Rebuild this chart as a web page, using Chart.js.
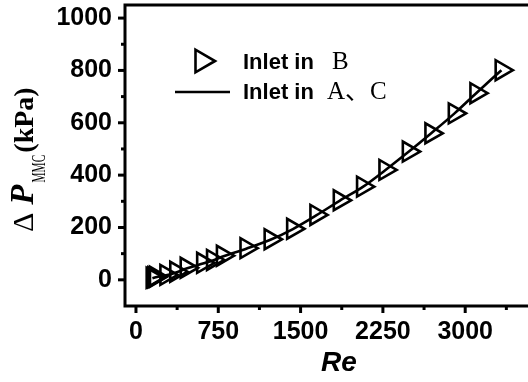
<!DOCTYPE html>
<html>
<head>
<meta charset="utf-8">
<script src="https://cdn.jsdelivr.net/npm/chart.js@4/dist/chart.umd.min.js"></script>
<style>
  html, body { margin: 0; padding: 0; background: #fff; overflow: hidden; }
  #wrap { width: 528px; height: 382px; overflow: hidden; }
</style>
</head>
<body>
<div id="wrap"><canvas id="dpChart" width="560" height="382"></canvas></div>
<script>
// Inlet in B (triangle markers)
const reB = [150, 165, 180, 275, 365, 460, 610, 700, 790, 1005, 1225, 1430, 1642, 1855, 2067, 2271, 2484, 2690, 2903, 3100, 3330];
const dpB = [8, 10, 12, 19, 31, 46, 65, 76, 92, 121, 155, 195, 248, 304, 356, 420, 490, 560, 636, 713, 801];
// Inlet in A、C (line)
const reAC = [150, 165, 180, 275, 365, 460, 610, 700, 790, 1005, 1225, 1430, 1642, 1855, 2067, 2271, 2484, 2690, 2903, 3100, 3330];
const dpAC = [6, 8, 10, 17, 28, 43, 62, 74, 89, 119, 153, 194, 246, 302, 355, 419, 489, 560, 636, 713, 801];

const xTicks = [0, 375, 750, 1125, 1500, 1875, 2250, 2625, 3000, 3375, 3750];
const xLabels = [0, 750, 1500, 2250, 3000];
const yTicks = [0, 100, 200, 300, 400, 500, 600, 700, 800, 900, 1000];
const yLabels = [0, 200, 400, 600, 800, 1000];

const fontSans = 'Liberation Sans, Arial, sans-serif';

// frame, tick marks, y title and legend
const decor = {
    id: 'decor',
    afterDraw(chart) {
        const ctx = chart.ctx;
        const a = chart.chartArea;
        const xs = chart.scales.x, ys = chart.scales.y;
        ctx.save();
        ctx.strokeStyle = '#000';
        ctx.lineWidth = 3;
        ctx.beginPath();
        ctx.moveTo(a.right + 2, a.top);
        ctx.lineTo(a.left, a.top);
        ctx.lineTo(a.left, a.bottom);
        ctx.lineTo(a.right + 2, a.bottom);
        ctx.stroke();

        xs.ticks.forEach(t => {
            const px = xs.getPixelForValue(t.value);
            const len = t.value % 750 === 0 ? 7 : 4;
            ctx.beginPath();
            ctx.moveTo(px, a.bottom);
            ctx.lineTo(px, a.bottom + len);
            ctx.stroke();
        });
        ys.ticks.forEach(t => {
            const py = ys.getPixelForValue(t.value);
            const len = yLabels.includes(t.value) ? 7 : 4;
            ctx.beginPath();
            ctx.moveTo(a.left, py);
            ctx.lineTo(a.left - len, py);
            ctx.stroke();
        });

        // y axis title: ΔP_MMC(kPa)
        ctx.fillStyle = '#000';
        ctx.translate(33, 232);
        ctx.rotate(-Math.PI / 2);
        ctx.textBaseline = 'alphabetic';
        let x = 0;
        ctx.font = '30px "Liberation Serif", serif';
        ctx.fillText('Δ', x, 0);
        x += ctx.measureText('Δ').width + 8;
        ctx.font = 'italic bold 33px "Liberation Serif", serif';
        ctx.fillText('P', x, 0);
        x += ctx.measureText('P').width + 2;
        ctx.save();
        ctx.translate(x, 12);
        ctx.scale(0.6, 1);
        ctx.font = '19px "Liberation Serif", serif';
        ctx.fillText('MMC', 0, 0);
        x += ctx.measureText('MMC').width * 0.6 + 2;
        ctx.restore();
        ctx.font = 'bold 28px "Liberation Serif", serif';
        ctx.fillText('(kPa)', x, 0);
        ctx.restore();

        // legend
        const ds0 = chart.data.datasets[0];
        const ds1 = chart.data.datasets[1];
        ctx.save();
        ctx.strokeStyle = ds0.borderColor;
        ctx.fillStyle = 'rgba(0,0,0,0)';
        ctx.lineWidth = ds0.pointBorderWidth;
        if (Chart.helpers && Chart.helpers.drawPoint) {
            Chart.helpers.drawPoint(ctx, {
                pointStyle: ds0.pointStyle, rotation: ds0.pointRotation,
                radius: 13, borderWidth: ds0.pointBorderWidth
            }, 202, 61);
        }
        ctx.strokeStyle = ds1.borderColor;
        ctx.lineWidth = ds1.borderWidth;
        ctx.beginPath();
        ctx.moveTo(175, 92);
        ctx.lineTo(230, 92);
        ctx.stroke();

        ctx.fillStyle = '#000';
        ctx.textBaseline = 'middle';
        ctx.font = 'bold 22px ' + fontSans;
        ctx.fillText('Inlet in', 243, 63);
        ctx.fillText('Inlet in', 243, 93);
        ctx.font = '25px "Liberation Serif", "Noto Sans CJK SC", serif';
        ctx.fillText('B', 332, 62);
        ctx.fillText('A、C', 327, 92);
        ctx.restore();
    }
};

const ctx = document.getElementById('dpChart').getContext('2d');
new Chart(ctx, {
    type: 'scatter',
    data: {
        datasets: [
            {
                label: 'Inlet in B',
                data: reB.map((v, i) => ({ x: v, y: dpB[i] })),
                showLine: false,
                pointStyle: 'triangle',
                pointRotation: 90,
                pointRadius: 11.5,
                pointBorderWidth: 2.6,
                borderColor: '#000',
                backgroundColor: 'rgba(0,0,0,0)'
            },
            {
                label: 'Inlet in A、C',
                data: reAC.map((v, i) => ({ x: v, y: dpAC[i] })),
                showLine: true,
                pointRadius: 0,
                borderColor: '#000',
                borderWidth: 2.6,
                cubicInterpolationMode: 'monotone'
            }
        ]
    },
    options: {
        responsive: false,
        animation: false,
        layout: { autoPadding: false, padding: { left: 0, top: 5, right: 7, bottom: 0 } },
        plugins: {
            legend: { display: false },
            tooltip: { enabled: false }
        },
        scales: {
            x: {
                type: 'linear',
                min: -100,
                max: 3800,
                afterBuildTicks: s => { s.ticks = xTicks.map(v => ({ value: v })); },
                afterFit: s => { s.height = 76; s.paddingLeft = 0; s.paddingRight = 0; },
                grid: { display: false, drawTicks: false },
                border: { display: false },
                ticks: {
                    padding: 11,
                    color: '#000',
                    font: { family: fontSans, size: 25, weight: 'bold' },
                    autoSkip: false,
                    maxRotation: 0,
                    callback: v => xLabels.includes(v) ? String(v) : ''
                },
                title: {
                    display: true,
                    text: 'Re',
                    color: '#000',
                    font: { family: fontSans, size: 28, weight: 'bold', style: 'italic' },
                    padding: { top: 0, bottom: 2 }
                }
            },
            y: {
                type: 'linear',
                min: -100,
                max: 1050,
                afterBuildTicks: s => { s.ticks = yTicks.map(v => ({ value: v })); },
                afterFit: s => { s.width = 125; s.paddingTop = 0; s.paddingBottom = 0; },
                grid: { display: true, drawOnChartArea: false, drawTicks: true, tickLength: 13, tickColor: 'rgba(0,0,0,0)' },
                border: { display: false },
                ticks: {
                    padding: 0,
                    color: '#000',
                    font: { family: fontSans, size: 25, weight: 'bold', lineHeight: 0.4 },
                    autoSkip: false,
                    callback: v => yLabels.includes(v) ? String(v) : ''
                }
            }
        }
    },
    plugins: [decor]
});
</script>
</body>
</html>
